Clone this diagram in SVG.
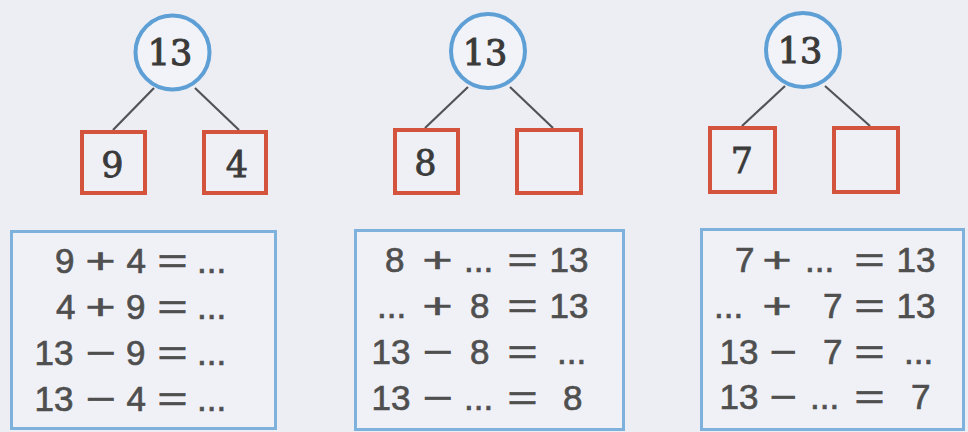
<svg xmlns="http://www.w3.org/2000/svg" width="968" height="432" viewBox="0 0 968 432">
  <style>
    .bg { fill: #eceef3; }
    .ring { fill: #f1f3f8; stroke: #5e9fd6; stroke-width: 4; }
    .ringtxt { font-family: "DejaVu Serif", "Liberation Serif", serif; font-size: 35px; fill: #3a3a3a; stroke: #3a3a3a; stroke-width: 1.1; text-anchor: middle; }
    .sq { fill: #eef0f5; stroke: #d4533c; stroke-width: 4; }
    .sqtxt { font-family: "DejaVu Serif", "Liberation Serif", serif; font-size: 35px; fill: #3a3a3a; stroke: #3a3a3a; stroke-width: 0.8; text-anchor: middle; }
    .link { stroke: #505458; stroke-width: 2.2; fill: none; }
    .panel { fill: #eff1f7; stroke: #7eb1dc; stroke-width: 3; }
    .eq { font-family: "Liberation Sans", Arial, sans-serif; font-size: 35px; fill: #4f4f4f; stroke: #4f4f4f; stroke-width: 0.7; }
  </style>

  <rect class="bg" x="0" y="0" width="968" height="432"/>

  <g id="connectors">
    <line class="link" x1="154" y1="88" x2="113" y2="130"/>
    <line class="link" x1="195" y1="88" x2="239" y2="130"/>
    <line class="link" x1="468" y1="87" x2="425" y2="128"/>
    <line class="link" x1="510" y1="87" x2="553" y2="128"/>
    <line class="link" x1="785" y1="86" x2="742" y2="126"/>
    <line class="link" x1="825" y1="86" x2="870" y2="126"/>
  </g>

  <g id="whole1">
    <circle class="ring" cx="172.5" cy="52.5" r="37"/>
    <text class="ringtxt" x="170" y="65">13</text>
  </g>
  <g id="part1a">
    <rect class="sq" x="82" y="132" width="63" height="61"/>
    <text class="sqtxt" x="112.5" y="177">9</text>
  </g>
  <g id="part1b">
    <rect class="sq" x="204" y="132" width="62" height="61"/>
    <text class="sqtxt" x="237" y="177">4</text>
  </g>

  <g id="whole2">
    <circle class="ring" cx="488" cy="51" r="37"/>
    <text class="ringtxt" x="485" y="65">13</text>
  </g>
  <g id="part2a">
    <rect class="sq" x="395" y="130" width="63" height="63"/>
    <text class="sqtxt" x="425.5" y="175">8</text>
  </g>
  <g id="part2b">
    <rect class="sq" x="517" y="130" width="64" height="63"/>
  </g>

  <g id="whole3">
    <circle class="ring" cx="803" cy="50" r="37"/>
    <text class="ringtxt" x="800" y="63">13</text>
  </g>
  <g id="part3a">
    <rect class="sq" x="710" y="128" width="65" height="64"/>
    <text class="sqtxt" x="742" y="173">7</text>
  </g>
  <g id="part3b">
    <rect class="sq" x="834" y="128" width="64" height="64"/>
  </g>

  <g id="equations1">
    <rect class="panel" x="11.5" y="231.5" width="264" height="197"/>
    <text class="eq" y="273"><tspan x="55">9</tspan> <tspan x="85.5" textLength="30" lengthAdjust="spacingAndGlyphs">+</tspan> <tspan x="126.5">4</tspan> <tspan x="157.5" textLength="30" lengthAdjust="spacingAndGlyphs">=</tspan> <tspan x="197">...</tspan></text>
    <text class="eq" y="319"><tspan x="56">4</tspan> <tspan x="85.5" textLength="30" lengthAdjust="spacingAndGlyphs">+</tspan> <tspan x="126">9</tspan> <tspan x="157.5" textLength="30" lengthAdjust="spacingAndGlyphs">=</tspan> <tspan x="197">...</tspan></text>
    <text class="eq" y="365"><tspan x="34.5">13</tspan> <tspan x="85.5" textLength="30" lengthAdjust="spacingAndGlyphs">−</tspan> <tspan x="126">9</tspan> <tspan x="157.5" textLength="30" lengthAdjust="spacingAndGlyphs">=</tspan> <tspan x="197">...</tspan></text>
    <text class="eq" y="411"><tspan x="34.5">13</tspan> <tspan x="85.5" textLength="30" lengthAdjust="spacingAndGlyphs">−</tspan> <tspan x="126.5">4</tspan> <tspan x="157.5" textLength="30" lengthAdjust="spacingAndGlyphs">=</tspan> <tspan x="197">...</tspan></text>
  </g>

  <g id="equations2">
    <rect class="panel" x="355.5" y="230.5" width="268" height="199"/>
    <text class="eq" y="272"><tspan x="385">8</tspan> <tspan x="422.5" textLength="30" lengthAdjust="spacingAndGlyphs">+</tspan> <tspan x="464">...</tspan> <tspan x="507.5" textLength="30" lengthAdjust="spacingAndGlyphs">=</tspan> <tspan x="549.5">13</tspan></text>
    <text class="eq" y="318"><tspan x="377">...</tspan> <tspan x="422.5" textLength="30" lengthAdjust="spacingAndGlyphs">+</tspan> <tspan x="470">8</tspan> <tspan x="507.5" textLength="30" lengthAdjust="spacingAndGlyphs">=</tspan> <tspan x="549.5">13</tspan></text>
    <text class="eq" y="364"><tspan x="371.5">13</tspan> <tspan x="422.5" textLength="30" lengthAdjust="spacingAndGlyphs">−</tspan> <tspan x="470">8</tspan> <tspan x="507.5" textLength="30" lengthAdjust="spacingAndGlyphs">=</tspan> <tspan x="557">...</tspan></text>
    <text class="eq" y="410"><tspan x="371.5">13</tspan> <tspan x="422.5" textLength="30" lengthAdjust="spacingAndGlyphs">−</tspan> <tspan x="464">...</tspan> <tspan x="507.5" textLength="30" lengthAdjust="spacingAndGlyphs">=</tspan> <tspan x="563">8</tspan></text>
  </g>

  <g id="equations3">
    <rect class="panel" x="701.5" y="229.5" width="262" height="200"/>
    <text class="eq" y="272"><tspan x="735">7</tspan> <tspan x="762.5" textLength="29" lengthAdjust="spacingAndGlyphs">+</tspan> <tspan x="805">...</tspan> <tspan x="854.5" textLength="30" lengthAdjust="spacingAndGlyphs">=</tspan> <tspan x="896.5">13</tspan></text>
    <text class="eq" y="318"><tspan x="714">...</tspan> <tspan x="762.5" textLength="29" lengthAdjust="spacingAndGlyphs">+</tspan> <tspan x="823">7</tspan> <tspan x="854.5" textLength="30" lengthAdjust="spacingAndGlyphs">=</tspan> <tspan x="896.5">13</tspan></text>
    <text class="eq" y="364"><tspan x="719.5">13</tspan> <tspan x="769.5" textLength="27" lengthAdjust="spacingAndGlyphs">−</tspan> <tspan x="823">7</tspan> <tspan x="854.5" textLength="30" lengthAdjust="spacingAndGlyphs">=</tspan> <tspan x="904">...</tspan></text>
    <text class="eq" y="409"><tspan x="719.5">13</tspan> <tspan x="769.5" textLength="27" lengthAdjust="spacingAndGlyphs">−</tspan> <tspan x="810">...</tspan> <tspan x="854.5" textLength="30" lengthAdjust="spacingAndGlyphs">=</tspan> <tspan x="911">7</tspan></text>
  </g>
</svg>
